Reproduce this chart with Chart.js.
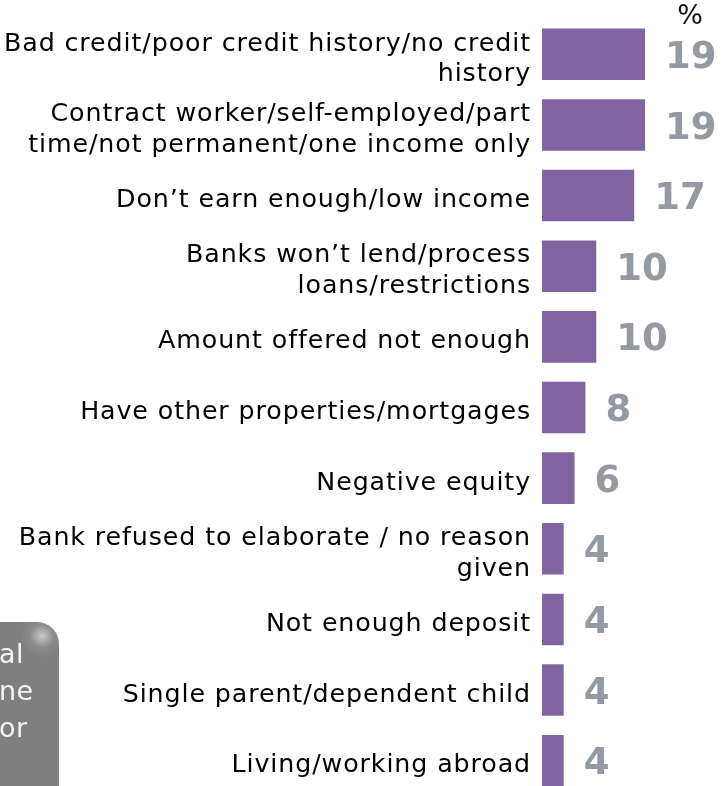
<!DOCTYPE html>
<html>
<head>
<meta charset="utf-8">
<script src="https://cdn.jsdelivr.net/npm/chart.js@4"></script>
<style>
html,body{margin:0;padding:0;width:721px;height:786px;overflow:hidden;background:#fff;}
#wrap{position:absolute;left:0;top:0;width:721px;height:786px;overflow:hidden;}
#c{position:absolute;left:0;top:0;}
#box{position:absolute;left:-30px;top:622px;width:89px;height:200px;background:#7f7f7f;border-radius:22px 22px 0 0;
 background:radial-gradient(circle at 72px 14px, #c8c8c8 0px, #8a8a8a 12px, #7f7f7f 22px);
 color:#f4f4f4;font-family:"DejaVu Sans",Verdana,sans-serif;font-size:27px;line-height:37px;box-sizing:border-box;padding:13px 0 0 29px;letter-spacing:0.5px;}
</style>
</head>
<body>
<div id="wrap">
<canvas id="c" width="721" height="800"></canvas>
<div id="box">al<br>ne<br>or</div>
</div>
<script>
const categories = [
  ["Bad credit/poor credit history/no credit", "history"],
  ["Contract worker/self-employed/part", "time/not permanent/one income only"],
  "Don\u2019t earn enough/low income",
  ["Banks won\u2019t lend/process", "loans/restrictions"],
  "Amount offered not enough",
  "Have other properties/mortgages",
  "Negative equity",
  ["Bank refused to elaborate / no reason", "given"],
  "Not enough deposit",
  "Single parent/dependent child",
  "Living/working abroad"
];
const values = [19, 19, 17, 10, 10, 8, 6, 4, 4, 4, 4];
const unitLabel = "%";

const spacing = {
  id: 'spacing',
  beforeDraw(chart) { chart.ctx.letterSpacing = '0.9px'; }
};

const valueLabels = {
  id: 'valueLabels',
  afterDatasetsDraw(chart) {
    const ctx = chart.ctx;
    const meta = chart.getDatasetMeta(0);
    ctx.save();
    ctx.letterSpacing = '0px';
    ctx.font = 'bold 37px "DejaVu Sans", Verdana, sans-serif';
    ctx.fillStyle = '#939aa3';
    ctx.textAlign = 'left';
    ctx.textBaseline = 'middle';
    meta.data.forEach((bar, i) => {
      ctx.fillText(String(values[i]), bar.x + 20, bar.y + 4);
    });
    ctx.font = '27px "DejaVu Sans", Verdana, sans-serif';
    ctx.fillStyle = '#111';
    ctx.textAlign = 'center';
    ctx.fillText(unitLabel, 690, 17);
    ctx.restore();
  }
};

new Chart(document.getElementById('c'), {
  type: 'bar',
  data: {
    labels: categories,
    datasets: [{
      data: values,
      backgroundColor: '#8064a2',
      borderWidth: 0,
      barPercentage: 0.73,
      categoryPercentage: 1
    }]
  },
  options: {
    indexAxis: 'y',
    responsive: false,
    animation: false,
    devicePixelRatio: 1,
    layout: { padding: { top: 19, bottom: 4, left: 0, right: 0 } },
    plugins: { legend: { display: false }, tooltip: { enabled: false } },
    scales: {
      x: { display: false, min: 0, max: 33 },
      y: {
        grid: { display: false, drawTicks: false },
        border: { display: false },
        ticks: {
          color: '#000',
          padding: 11,
          labelOffset: 5,
          font: { family: '"DejaVu Sans", Verdana, sans-serif', size: 25.3, lineHeight: 1.21 }
        },
        afterFit(scale) {
          scale.width = 542;
          scale.paddingTop = 0;
          scale.paddingBottom = 0;
        }
      }
    }
  },
  plugins: [spacing, valueLabels]
});
</script>
</body>
</html>
